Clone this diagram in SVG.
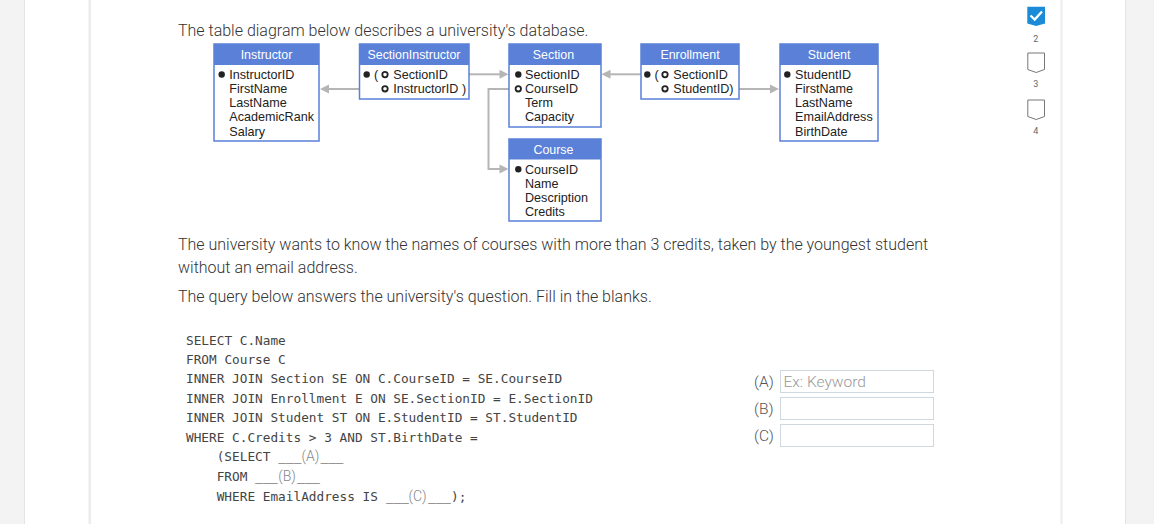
<svg xmlns="http://www.w3.org/2000/svg" width="1154" height="524" viewBox="0 0 1154 524">
<style>
.page{font-family:Roboto,"Liberation Sans",sans-serif;font-size:16px;fill:#333;font-weight:300}
.hdr{fill:#5a80d8}
.box{fill:#fff;stroke:#5a80d8;stroke-width:1.5}
.ht{font-family:"Liberation Sans",Arial,sans-serif;font-size:12.4px;fill:#fff;text-anchor:middle}
.bt{font-family:"Liberation Sans",Arial,sans-serif;font-size:12.6px;fill:#222}
.dot{fill:#222}
.ring{fill:none;stroke:#222;stroke-width:1.8}
.con{fill:none;stroke:#b5b5b5;stroke-width:2}
.ah{fill:#b5b5b5}
.code{font-family:"DejaVu Sans Mono","Liberation Mono",monospace;font-size:12.75px;fill:#444}
.bl{font-family:Roboto,"Liberation Sans",sans-serif;font-size:14px;fill:#888;font-weight:300}
.lab{font-family:Roboto,"Liberation Sans",sans-serif;font-size:15.5px;fill:#555;font-weight:300}
.ph{font-family:Roboto,"Liberation Sans",sans-serif;font-size:15.5px;fill:#999;font-weight:300}
.inp{fill:#fff;stroke:#cfd8df;stroke-width:1}
.num{font-family:Roboto,"Liberation Sans",sans-serif;font-size:9px;fill:#666;text-anchor:middle}
</style>
<rect x="0" y="0" width="1154" height="524" fill="#fff"/>
<rect x="0" y="0" width="24" height="524" fill="#f3f3f3"/>
<rect x="24" y="0" width="1" height="524" fill="#e4e4e4"/>
<rect x="88.5" y="0" width="2.5" height="524" fill="#ececec"/>
<rect x="1060.5" y="0" width="2" height="524" fill="#ececec"/>
<rect x="1125" y="0" width="29" height="524" fill="#f3f3f3"/>
<rect x="1125" y="0" width="1" height="524" fill="#e4e4e4"/>

<text class="page" x="178" y="36">The table diagram below describes a university's database.</text>

<g id="connectors">
<path class="con" d="M359 89 H327"/>
<polygon class="ah" points="320,89 329,84.5 329,93.5"/>
<path class="con" d="M469 74.3 H501"/>
<polygon class="ah" points="508.5,74.3 499.5,69.8 499.5,78.8"/>
<path class="con" d="M509 89 H488.5 V169 H502"/>
<polygon class="ah" points="508.5,169 499.5,164.5 499.5,173.5"/>
<path class="con" d="M641 74.3 H609"/>
<polygon class="ah" points="601.5,74.3 610.5,69.8 610.5,78.8"/>
<path class="con" d="M739 89 H771"/>
<polygon class="ah" points="779,89 770,84.5 770,93.5"/>
</g>

<g id="instructor">
<rect class="box" x="214" y="44" width="105" height="97"/>
<rect class="hdr" x="214" y="44" width="105" height="21"/>
<text class="ht" x="266.5" y="59">Instructor</text>
<circle class="dot" cx="221.7" cy="74.5" r="3.2"/>
<text class="bt" x="229.3" y="78.7">InstructorID</text>
<text class="bt" x="229.3" y="92.9">FirstName</text>
<text class="bt" x="229.3" y="107.1">LastName</text>
<text class="bt" x="229.3" y="121.3">AcademicRank</text>
<text class="bt" x="229.3" y="135.5">Salary</text>
</g>

<g id="sectioninstructor">
<rect class="box" x="359.5" y="44" width="109.5" height="55"/>
<rect class="hdr" x="359.5" y="44" width="109.5" height="21"/>
<text class="ht" x="414" y="59">SectionInstructor</text>
<circle class="dot" cx="366.7" cy="74.5" r="3.2"/>
<text class="bt" x="374" y="78.7">(</text>
<circle class="ring" cx="385" cy="74.6" r="2.7"/>
<text class="bt" x="393.3" y="78.7">SectionID</text>
<circle class="ring" cx="385" cy="88.8" r="2.7"/>
<text class="bt" x="393.3" y="92.9">InstructorID )</text>
</g>

<g id="section">
<rect class="box" x="509" y="44" width="92" height="83"/>
<rect class="hdr" x="509" y="44" width="92" height="21"/>
<text class="ht" x="553.5" y="59">Section</text>
<circle class="dot" cx="518.3" cy="74.5" r="3.2"/>
<text class="bt" x="525" y="78.7">SectionID</text>
<circle class="ring" cx="518.3" cy="88.8" r="2.7"/>
<text class="bt" x="525" y="92.9">CourseID</text>
<text class="bt" x="525" y="107.1">Term</text>
<text class="bt" x="525" y="121.3">Capacity</text>
</g>

<g id="course">
<rect class="box" x="509" y="139" width="92" height="82"/>
<rect class="hdr" x="509" y="139" width="92" height="20.5"/>
<text class="ht" x="553.5" y="153.8">Course</text>
<circle class="dot" cx="518.3" cy="169.2" r="3.2"/>
<text class="bt" x="525" y="173.5">CourseID</text>
<text class="bt" x="525" y="187.7">Name</text>
<text class="bt" x="525" y="201.9">Description</text>
<text class="bt" x="525" y="216.1">Credits</text>
</g>

<g id="enrollment">
<rect class="box" x="641" y="44" width="98" height="55"/>
<rect class="hdr" x="641" y="44" width="98" height="21"/>
<text class="ht" x="690" y="59">Enrollment</text>
<circle class="dot" cx="647.3" cy="74.5" r="3.2"/>
<text class="bt" x="654.5" y="78.7">(</text>
<circle class="ring" cx="665" cy="74.6" r="2.7"/>
<text class="bt" x="673.3" y="78.7">SectionID</text>
<circle class="ring" cx="665" cy="88.8" r="2.7"/>
<text class="bt" x="673.3" y="92.9">StudentID)</text>
</g>

<g id="student">
<rect class="box" x="780" y="44" width="98" height="97"/>
<rect class="hdr" x="780" y="44" width="98" height="21"/>
<text class="ht" x="829" y="59">Student</text>
<circle class="dot" cx="787.3" cy="74.5" r="3.2"/>
<text class="bt" x="795" y="78.7">StudentID</text>
<text class="bt" x="795" y="92.9">FirstName</text>
<text class="bt" x="795" y="107.1">LastName</text>
<text class="bt" x="795" y="121.3">EmailAddress</text>
<text class="bt" x="795" y="135.5">BirthDate</text>
</g>

<text class="page" x="178" y="250">The university wants to know the names of courses with more than 3 credits, taken by the youngest student</text>
<text class="page" x="178" y="273">without an email address.</text>
<text class="page" x="178" y="302">The query below answers the university's question. Fill in the blanks.</text>

<g id="sql">
<text class="code" x="186" y="344.6">SELECT C.Name</text>
<text class="code" x="186" y="363.6">FROM Course C</text>
<text class="code" x="186" y="382.9">INNER JOIN Section SE ON C.CourseID = SE.CourseID</text>
<text class="code" x="186" y="402.6">INNER JOIN Enrollment E ON SE.SectionID = E.SectionID</text>
<text class="code" x="186" y="421.9">INNER JOIN Student ST ON E.StudentID = ST.StudentID</text>
<text class="code" x="186" y="441.9">WHERE C.Credits &gt; 3 AND ST.BirthDate =</text>
<text class="code" x="216.7" y="461.3">(SELECT</text>
<text class="code" x="278.3" y="461.3">___</text>
<text class="bl" x="301.5" y="461.3">(A)</text>
<text class="code" x="320.5" y="461.3">___</text>
<text class="code" x="216.7" y="481.3">FROM</text>
<text class="code" x="255" y="481.3">___</text>
<text class="bl" x="278.3" y="481.3">(B)</text>
<text class="code" x="297" y="481.3">___</text>
<text class="code" x="216.7" y="501.3">WHERE EmailAddress IS</text>
<text class="code" x="386" y="501.3">___</text>
<text class="bl" x="408.5" y="501.3">(C)</text>
<text class="code" x="428" y="501.3">___);</text>
</g>

<g id="answers">
<text class="lab" x="754" y="387">(A)</text>
<rect class="inp" x="780.5" y="370.5" width="153" height="22"/>
<text class="ph" x="783.5" y="387">Ex: Keyword</text>
<text class="lab" x="754" y="414">(B)</text>
<rect class="inp" x="780.5" y="397.5" width="153" height="22"/>
<text class="lab" x="754" y="440.5">(C)</text>
<rect class="inp" x="780.5" y="424.5" width="153" height="22"/>
</g>

<g id="steps">
<path d="M1027.3 6.7 H1045 V23.5 L1036.2 26 L1027.3 23.5 Z" fill="#1b8bd8"/>
<path d="M1030.5 15.5 L1034.7 19.5 L1042 11.5" fill="none" stroke="#fff" stroke-width="2.3"/>
<text class="num" x="1035.8" y="41.5">2</text>
<path d="M1027.8 53 H1044.5 V69.5 L1036.2 72.5 L1027.8 69.5 Z" fill="#fff" stroke="#777" stroke-width="1"/>
<text class="num" x="1035.8" y="87">3</text>
<path d="M1027.8 100 H1044.5 V116.5 L1036.2 119.5 L1027.8 116.5 Z" fill="#fff" stroke="#777" stroke-width="1"/>
<text class="num" x="1035.8" y="134">4</text>
</g>
</svg>
